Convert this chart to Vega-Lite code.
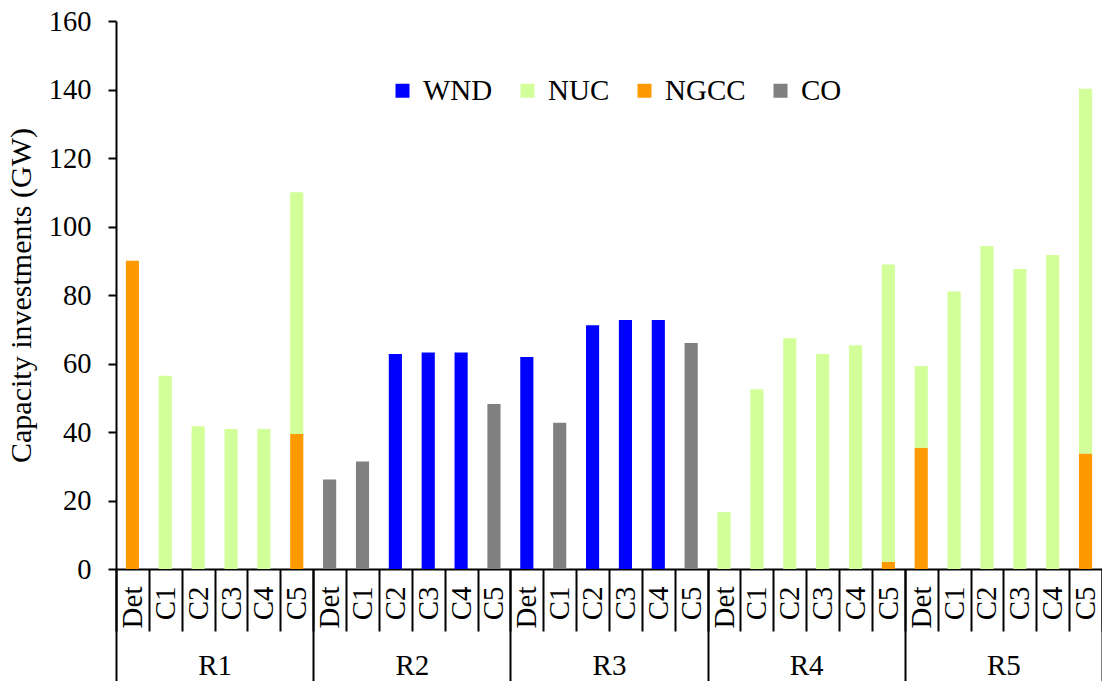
{
  "$schema": "https://vega.github.io/schema/vega-lite/v6.json",
  "width": 986,
  "height": 548,
  "autosize": {"type": "none"},
  "padding": {"left": 116, "top": 21, "right": 0, "bottom": 112},
  "config": {
    "font": "Liberation Serif",
    "view": {"stroke": null},
    "axis": {"grid": false, "domainColor": "black", "tickColor": "black", "labelColor": "black", "titleColor": "black"}
  },
  "data": {
    "values": [
      {"region": "R1", "slot": "R1 Det", "tech": "NGCC", "gw": 90.0},
      {"region": "R1", "slot": "R1 C1", "tech": "NUC", "gw": 56.4},
      {"region": "R1", "slot": "R1 C2", "tech": "NUC", "gw": 41.7},
      {"region": "R1", "slot": "R1 C3", "tech": "NUC", "gw": 40.9},
      {"region": "R1", "slot": "R1 C4", "tech": "NUC", "gw": 40.9},
      {"region": "R1", "slot": "R1 C5", "tech": "NGCC", "gw": 39.4},
      {"region": "R1", "slot": "R1 C5", "tech": "NUC", "gw": 70.6},
      {"region": "R2", "slot": "R2 Det", "tech": "CO", "gw": 26.1},
      {"region": "R2", "slot": "R2 C1", "tech": "CO", "gw": 31.4},
      {"region": "R2", "slot": "R2 C2", "tech": "WND", "gw": 62.8},
      {"region": "R2", "slot": "R2 C3", "tech": "WND", "gw": 63.2},
      {"region": "R2", "slot": "R2 C4", "tech": "WND", "gw": 63.2},
      {"region": "R2", "slot": "R2 C5", "tech": "CO", "gw": 48.2},
      {"region": "R3", "slot": "R3 Det", "tech": "WND", "gw": 61.9},
      {"region": "R3", "slot": "R3 C1", "tech": "CO", "gw": 42.7},
      {"region": "R3", "slot": "R3 C2", "tech": "WND", "gw": 71.2},
      {"region": "R3", "slot": "R3 C3", "tech": "WND", "gw": 72.7},
      {"region": "R3", "slot": "R3 C4", "tech": "WND", "gw": 72.7},
      {"region": "R3", "slot": "R3 C5", "tech": "CO", "gw": 66.0},
      {"region": "R4", "slot": "R4 Det", "tech": "NUC", "gw": 16.6},
      {"region": "R4", "slot": "R4 C1", "tech": "NUC", "gw": 52.5},
      {"region": "R4", "slot": "R4 C2", "tech": "NUC", "gw": 67.4},
      {"region": "R4", "slot": "R4 C3", "tech": "NUC", "gw": 62.8},
      {"region": "R4", "slot": "R4 C4", "tech": "NUC", "gw": 65.3},
      {"region": "R4", "slot": "R4 C5", "tech": "NGCC", "gw": 2.1},
      {"region": "R4", "slot": "R4 C5", "tech": "NUC", "gw": 86.8},
      {"region": "R5", "slot": "R5 Det", "tech": "NGCC", "gw": 35.4},
      {"region": "R5", "slot": "R5 Det", "tech": "NUC", "gw": 23.9},
      {"region": "R5", "slot": "R5 C1", "tech": "NUC", "gw": 81.0},
      {"region": "R5", "slot": "R5 C2", "tech": "NUC", "gw": 94.3},
      {"region": "R5", "slot": "R5 C3", "tech": "NUC", "gw": 87.6},
      {"region": "R5", "slot": "R5 C4", "tech": "NUC", "gw": 91.7},
      {"region": "R5", "slot": "R5 C5", "tech": "NGCC", "gw": 33.7},
      {"region": "R5", "slot": "R5 C5", "tech": "NUC", "gw": 106.5}
    ]
  },
  "layer": [
    {
      "mark": {"type": "bar", "width": {"band": 0.4}},
      "encoding": {
        "x": {
          "field": "slot",
          "type": "nominal",
          "sort": null,
          "scale": {"type": "band", "paddingInner": 0, "paddingOuter": 0},
          "axis": {
            "title": null,
            "orient": "bottom",
            "domainWidth": 2,
            "tickBand": "extent",
            "tickSize": 62,
            "tickWidth": 2,
            "labelAngle": 270,
            "labelFontSize": 29,
            "labelPadding": -45,
            "labelExpr": "split(datum.label, ' ')[1]"
          }
        },
        "y": {
          "field": "gw",
          "type": "quantitative",
          "aggregate": "sum",
          "stack": "zero",
          "scale": {"domain": [0, 160], "nice": false},
          "axis": {
            "title": "Capacity investments (GW)",
            "values": [0, 20, 40, 60, 80, 100, 120, 140, 160],
            "domainWidth": 2,
            "tickSize": 8,
            "tickWidth": 2,
            "labelFontSize": 28.5,
            "labelPadding": 17,
            "titleFontSize": 30,
            "titleFontWeight": "normal",
            "titlePadding": 12
          }
        },
        "color": {
          "field": "tech",
          "type": "nominal",
          "scale": {
            "domain": ["WND", "NUC", "NGCC", "CO"],
            "range": ["#0000FF", "#D2FF99", "#FF9900", "#808080"]
          },
          "legend": {
            "title": null,
            "orient": "none",
            "direction": "horizontal",
            "columns": 4,
            "legendX": 272,
            "legendY": 55,
            "padding": 0,
            "symbolType": "square",
            "symbolSize": 196,
            "symbolStrokeWidth": 0,
            "labelFontSize": 29,
            "labelOffset": 6,
            "columnPadding": 20
          }
        },
        "order": {"field": "tech", "sort": "ascending"}
      }
    },
    {
      "mark": {"type": "rule", "strokeOpacity": 0},
      "encoding": {
        "x": {
          "field": "region",
          "type": "nominal",
          "scale": {"type": "band", "paddingInner": 0, "paddingOuter": 0},
          "axis": {
            "title": null,
            "orient": "bottom",
            "domain": false,
            "tickBand": "extent",
            "tickSize": 112,
            "tickWidth": 2,
            "labelAngle": 0,
            "labelFontSize": 29,
            "labelPadding": -30
          }
        }
      }
    }
  ],
  "resolve": {"scale": {"x": "independent"}, "axis": {"x": "independent"}}
}
